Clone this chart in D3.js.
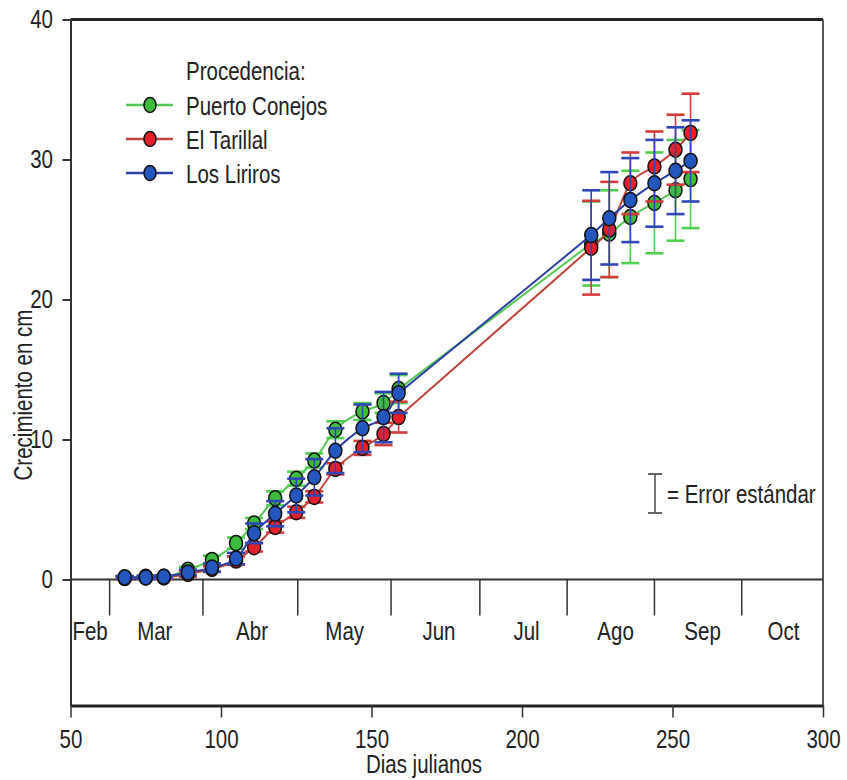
<!DOCTYPE html>
<html>
<head>
<meta charset="utf-8">
<script src="https://cdn.jsdelivr.net/npm/d3@7"></script>
<style>
  html, body { margin: 0; padding: 0; background: #fff; }
  svg { display: block; }
  text { font-family: 'Liberation Sans', Arial, sans-serif; fill: #222; }
</style>
</head>
<body>
<svg id="chart" width="847" height="780"></svg>
<script>
// ---- data ----
const days = [68, 75, 81, 89, 97, 105, 111, 118, 125, 131, 138, 147, 154, 159, 223, 229, 236, 244, 251, 256];
const seriesNames = ["Puerto Conejos", "El Tarillal", "Los Liriros"];
const puertoConejos = [0.15, 0.2, 0.2, 0.7, 1.4, 2.6, 4.0, 5.8, 7.2, 8.5, 10.7, 12.0, 12.6, 13.6, 24.0, 24.7, 25.9, 26.9, 27.8, 28.6];
const elTarillal    = [0.1, 0.15, 0.15, 0.4, 0.75, 1.35, 2.3, 3.75, 4.8, 5.9, 7.9, 9.4, 10.4, 11.6, 23.7, 25.0, 28.3, 29.5, 30.7, 31.9];
const losLiriros    = [0.15, 0.15, 0.2, 0.5, 0.85, 1.5, 3.3, 4.7, 6.0, 7.3, 9.2, 10.8, 11.6, 13.3, 24.6, 25.8, 27.1, 28.3, 29.2, 29.9];
const errPuertoConejos = [0.1, 0.1, 0.1, 0.2, 0.3, 0.4, 0.4, 0.5, 0.5, 0.5, 0.6, 0.6, 0.7, 1.0, 3.0, 3.1, 3.3, 3.6, 3.6, 3.5];
const errElTarillal    = [0.1, 0.1, 0.1, 0.2, 0.2, 0.3, 0.3, 0.4, 0.4, 0.4, 0.4, 0.5, 0.8, 1.1, 3.35, 3.4, 2.2, 2.5, 2.5, 2.8];
const errLosLiriros    = [0.1, 0.1, 0.1, 0.2, 0.3, 0.4, 0.7, 0.9, 1.2, 1.3, 1.6, 1.7, 1.8, 1.4, 3.2, 3.3, 3.0, 3.1, 3.1, 2.9];
const months = ["Feb", "Mar", "Abr", "May", "Jun", "Jul", "Ago", "Sep", "Oct"];
const monthLabelDays = [56.5, 78, 110.3, 141.1, 172.4, 201.5, 231.1, 260, 286.9];
const monthBoundaryDays = [63, 94, 125.5, 156.5, 186, 215, 244, 273];
const xTicks = [50, 100, 150, 200, 250, 300];
const yTicks = [0, 10, 20, 30, 40];

// ---- styles ----
const lineColors   = ["#55c855", "#c0443c", "#2b3fa5"];
const markerColors = ["#3dbb3d", "#e5202a", "#2456c0"];
const errColors    = ["#4fd04f", "#d63a3a", "#2f46b8"];
const SX = 0.82; // narrow-font emulation
const FS = 25;

const svg = d3.select("#chart");
const x = d3.scaleLinear().domain([50, 300]).range([70.5, 823]);
const y = d3.scaleLinear().domain([-9, 40]).range([705.5, 19.5]);

function ntext(parent, tx, ty, str, opts = {}) {
  return parent.append("text")
    .attr("transform", `translate(${tx},${ty})${opts.rotate ? ` rotate(${opts.rotate})` : ""} scale(${SX},1)`)
    .attr("text-anchor", opts.anchor || "start")
    .attr("font-size", opts.size || FS)
    .text(str);
}

// frame: top and right
svg.append("line").attr("x1", x(50)).attr("x2", x(300)).attr("y1", y(40)).attr("y2", y(40))
  .attr("stroke", "#222").attr("stroke-width", 3);
svg.append("line").attr("x1", x(300)).attr("x2", x(300)).attr("y1", y(40)).attr("y2", y(-9))
  .attr("stroke", "#444").attr("stroke-width", 1.8);

// zero line
svg.append("line").attr("x1", x(50)).attr("x2", x(300)).attr("y1", y(0)).attr("y2", y(0))
  .attr("stroke", "#333").attr("stroke-width", 2);

// month boundaries and labels
svg.append("g").selectAll("line").data(monthBoundaryDays).join("line")
  .attr("x1", d => x(d)).attr("x2", d => x(d))
  .attr("y1", y(0)).attr("y2", y(0) + 36)
  .attr("stroke", "#333").attr("stroke-width", 1.5);
const mg = svg.append("g");
months.forEach((m, i) => ntext(mg, x(monthLabelDays[i]), 640, m, { anchor: "middle" }));

// y axis
const yAxis = svg.append("g").attr("transform", `translate(${x(50)},0)`)
  .call(d3.axisLeft(y).tickValues(yTicks).tickSize(8).tickSizeOuter(0).tickFormat(d3.format("d")));
yAxis.select(".domain").attr("stroke", "#333").attr("stroke-width", 2);
yAxis.selectAll(".tick line").attr("stroke", "#333").attr("stroke-width", 2);
yAxis.selectAll(".tick text").attr("font-size", FS).attr("font-family", null).attr("fill", "#222")
  .attr("x", -17.5 / SX).attr("transform", `scale(${SX},1)`);

// x axis
const xAxis = svg.append("g").attr("transform", `translate(0,${y(-9)})`)
  .call(d3.axisBottom(x).tickValues(xTicks).tickSize(12).tickSizeOuter(0).tickPadding(13));
xAxis.select(".domain").attr("stroke", "#222").attr("stroke-width", 3);
xAxis.selectAll(".tick line").attr("stroke", "#333").attr("stroke-width", 1.5);
xAxis.selectAll(".tick text").attr("font-size", FS).attr("font-family", null).attr("fill", "#222")
  .attr("transform", `scale(${SX},1)`);

// axis titles
ntext(svg, 32, 395, "Crecimiento en cm", { anchor: "middle", rotate: -90 });
ntext(svg, 424, 773, "Dias julianos", { anchor: "middle" });

// series
const values = [puertoConejos, elTarillal, losLiriros];
const errors = [errPuertoConejos, errElTarillal, errLosLiriros];
const smooth = d3.line().x(d => x(d.d)).y(d => y(d.v)).curve(d3.curveMonotoneX);
const straight = d3.line().x(d => x(d.d)).y(d => y(d.v));
const GAP = 13; // index of last point before the sampling gap

values.forEach((vals, s) => {
  const pts = days.map((d, i) => ({ d, v: vals[i], e: errors[s][i] }));
  const g = svg.append("g");
  [smooth(pts.slice(0, GAP + 1)), straight(pts.slice(GAP, GAP + 2)), smooth(pts.slice(GAP + 1))].forEach(dd => {
    g.append("path").attr("d", dd)
      .attr("fill", "none").attr("stroke", lineColors[s]).attr("stroke-width", 2);
  });
  const eb = g.append("g").selectAll("g").data(pts).join("g");
  eb.append("line").attr("x1", d => x(d.d)).attr("x2", d => x(d.d))
    .attr("y1", d => y(d.v + d.e)).attr("y2", d => y(d.v - d.e))
    .attr("stroke", errColors[s]).attr("stroke-width", 1.6);
  [1, -1].forEach(sign => {
    eb.append("line").attr("x1", d => x(d.d) - 9).attr("x2", d => x(d.d) + 9)
      .attr("y1", d => y(d.v + sign * d.e)).attr("y2", d => y(d.v + sign * d.e))
      .attr("stroke", errColors[s]).attr("stroke-width", 2.6);
  });
  g.append("g").selectAll("ellipse").data(pts).join("ellipse")
    .attr("cx", d => x(d.d)).attr("cy", d => y(d.v))
    .attr("rx", 6.5).attr("ry", 7.5)
    .attr("fill", markerColors[s]).attr("stroke", "#111").attr("stroke-width", 1.5);
});

// legend
ntext(svg, 186, 80, "Procedencia:");
const legY = [105, 139, 173];
seriesNames.forEach((name, s) => {
  const ly = legY[s];
  svg.append("line").attr("x1", 126).attr("x2", 173).attr("y1", ly).attr("y2", ly)
    .attr("stroke", lineColors[s]).attr("stroke-width", 2.5);
  svg.append("ellipse").attr("cx", 150).attr("cy", ly).attr("rx", 6).attr("ry", 7.5)
    .attr("fill", markerColors[s]).attr("stroke", "#111").attr("stroke-width", 1.5);
  ntext(svg, 186, ly + 10, name);
});

// standard error key
const ek = svg.append("g");
ek.append("line").attr("x1", 655).attr("x2", 655).attr("y1", 474).attr("y2", 513).attr("stroke", "#555").attr("stroke-width", 1.6);
ek.append("line").attr("x1", 648).attr("x2", 662).attr("y1", 474).attr("y2", 474).attr("stroke", "#555").attr("stroke-width", 1.8);
ek.append("line").attr("x1", 648).attr("x2", 662).attr("y1", 513).attr("y2", 513).attr("stroke", "#555").attr("stroke-width", 1.8);
ntext(ek, 667, 503, "= Error estándar");
</script>
</body>
</html>
